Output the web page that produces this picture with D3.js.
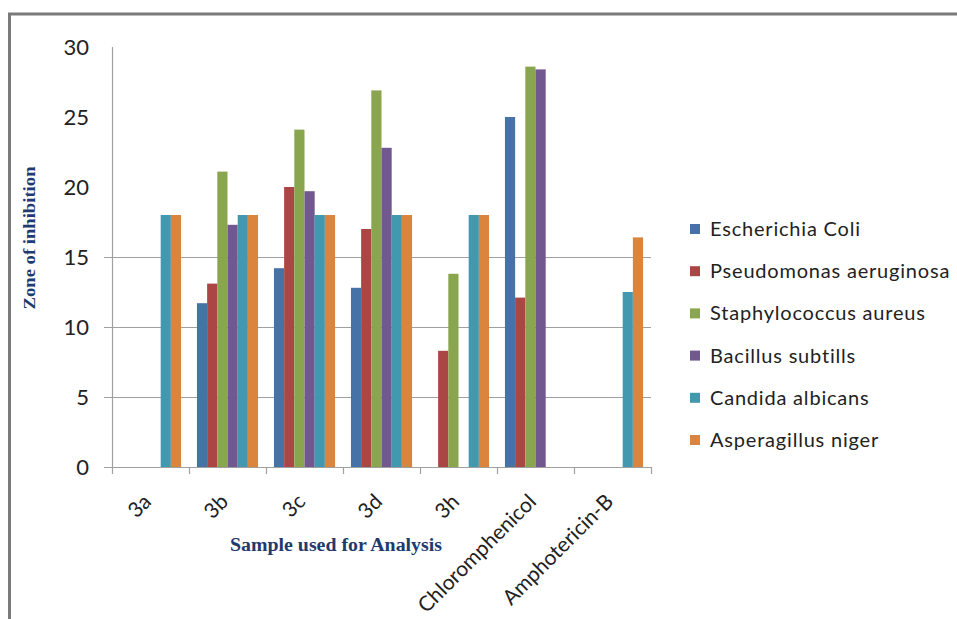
<!DOCTYPE html>
<html><head><meta charset="utf-8">
<script src="https://cdn.jsdelivr.net/npm/d3@7"></script>
<style>body{margin:0;background:#fff}</style>
</head><body>
<svg id="c" width="957" height="619"></svg>
<script>
const categories = ["3a","3b","3c","3d","3h","Chloromphenicol","Amphotericin-B"];
const seriesNames = ["Escherichia Coli","Pseudomonas aeruginosa","Staphylococcus aureus","Bacillus subtills","Candida albicans","Asperagillus niger"];
const ecoli   = [0, 11.7, 14.2, 12.8, 0, 25.0, 0];
const pseudo  = [0, 13.1, 20.0, 17.0, 8.3, 12.1, 0];
const staph   = [0, 21.1, 24.1, 26.9, 13.8, 28.6, 0];
const bacillus= [0, 17.3, 19.7, 22.8, 0, 28.4, 0];
const candida = [18, 18, 18, 18, 18, 0, 12.5];
const asper   = [18, 18, 18, 18, 18, 0, 16.4];
const seriesValues = [ecoli, pseudo, staph, bacillus, candida, asper];
const colors = ["#4572a7","#aa4643","#89a54e","#71588f","#4198af","#db843d"];
const yTicks = [0,5,10,15,20,25,30];
const gridTicks = [0,5,10,15];

const svg = d3.select("#c");
// frame
svg.append("path").attr("d","M9.5,619 L9.5,14 L957,14").attr("fill","none").attr("stroke","#7a7a7a").attr("stroke-width",3);

const x0 = d3.scaleBand().domain(categories).range([112,651]).padding(0);
const x1 = d3.scaleBand().domain(d3.range(seriesNames.length)).range([0,x0.bandwidth()]).paddingInner(0).paddingOuter(0.78);
const y = d3.scaleLinear().domain([0,30]).range([467,47]);

// gridlines
svg.append("g").selectAll("line").data(gridTicks).join("line")
  .attr("x1",104).attr("x2",651).attr("y1",d=>Math.round(y(d))+0.5).attr("y2",d=>Math.round(y(d))+0.5)
  .attr("stroke","#a0a0a0").attr("stroke-width",1.2);

// y axis line
svg.append("line").attr("x1",112.5).attr("x2",112.5).attr("y1",y(30)).attr("y2",y(0)).attr("stroke","#a0a0a0").attr("stroke-width",1.2);

// y tick labels
svg.append("g").selectAll("text").data(yTicks).join("text")
  .attr("x",89).attr("y",d=>y(d)).attr("dy","0.35em").attr("text-anchor","end")
  .attr("font-family","Lato, 'Open Sans', sans-serif").attr("font-size",22).attr("fill","#222")
  .text(d=>d);

// bars
const groups = svg.append("g").selectAll("g").data(categories).join("g")
  .attr("transform",d=>`translate(${x0(d)},0)`);
groups.selectAll("rect").data((d,i)=>seriesValues.map((s,j)=>({j, v:s[i]})).filter(e=>e.v>0)).join("rect")
  .attr("x",e=>x1(e.j)).attr("width",x1.bandwidth())
  .attr("y",e=>y(e.v)).attr("height",e=>y(0)-y(e.v))
  .attr("fill",e=>colors[e.j]);

// x axis ticks
const tickXs = categories.map(c=>x0(c)).concat([x0.range()[1]]);
svg.append("g").selectAll("line").data(tickXs).join("line")
  .attr("x1",d=>Math.round(d)+0.5).attr("x2",d=>Math.round(d)+0.5).attr("y1",467).attr("y2",474)
  .attr("stroke","#a0a0a0").attr("stroke-width",1.2);

// x labels
svg.append("g").selectAll("text").data(categories).join("text")
  .attr("transform",d=>`translate(${x0(d)+x0.bandwidth()/2+2},503) rotate(-45)`)
  .attr("text-anchor","end")
  .attr("font-family","Lato, 'Open Sans', sans-serif").attr("font-size",21).attr("fill","#222")
  .text(d=>d);

// axis titles
svg.append("text").attr("x",336).attr("y",551).attr("text-anchor","middle")
  .attr("font-family","'Liberation Serif', serif").attr("font-weight","bold").attr("font-size",18).attr("fill","#1f3a6e")
  .attr("textLength",212).attr("lengthAdjust","spacingAndGlyphs")
  .text("Sample used for Analysis");
svg.append("text").attr("transform","translate(35,238) rotate(-90)").attr("text-anchor","middle")
  .attr("font-family","'Liberation Serif', serif").attr("font-weight","bold").attr("font-size",17).attr("fill","#1f3a6e")
  .attr("textLength",143).attr("lengthAdjust","spacingAndGlyphs")
  .text("Zone of inhibition");

// legend
const leg = svg.append("g").selectAll("g").data(seriesNames).join("g")
  .attr("transform",(d,i)=>`translate(690,${229+i*42.2})`);
leg.append("rect").attr("x",0).attr("y",-5).attr("width",10).attr("height",10).attr("fill",(d,i)=>colors[i]);
leg.append("text").attr("x",20).attr("y",0).attr("dy","0.35em")
  .attr("font-family","Lato, 'Open Sans', sans-serif").attr("font-size",20).attr("letter-spacing",0.8).attr("fill","#222")
  .text(d=>d);
</script>
</body></html>
